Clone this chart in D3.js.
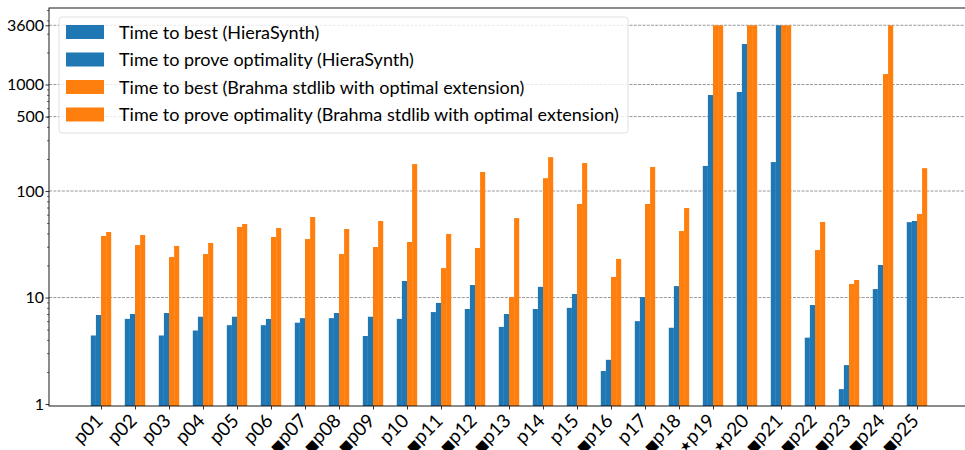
<!DOCTYPE html>
<html>
<head>
<meta charset="utf-8">
<script src="https://cdn.jsdelivr.net/npm/d3@7"></script>
<style>
  body { margin: 0; background: #fff; }
  svg { font-family: Lato, "DejaVu Sans", sans-serif; }
</style>
</head>
<body>
<script>
var categories = ["p01","p02","p03","p04","p05","p06","p07","p08","p09","p10","p11","p12","p13",
  "p14","p15","p16","p17","p18","p19","p20","p21","p22","p23","p24","p25"];
// markers shown in front of the problem name
var markers = ["","","","","","","★■","★■","★■","","★■","★■","★■",
  "","","★■","","■","★","★","*★■","★■","★■","★■","★■"];

var hsBest  = [4.4, 6.3, 4.4, 4.9, 5.5, 5.5, 5.8, 6.4, 4.35, 6.3, 7.3, 7.8, 5.3, 7.8, 8.0, 2.04, 6.0, 5.2, 172, 851, 187, 4.2, 1.38, 12.0, 51];
var hsProve = [6.85, 7.0, 7.15, 6.6, 6.6, 6.3, 6.4, 7.15, 6.6, 14.3, 8.9, 13.1, 7.0, 12.6, 10.8, 2.6, 10.1, 12.8, 797, 2400, 3600, 8.5, 2.32, 20.2, 52.3];
var brBest  = [37.8, 31.1, 24.0, 25.6, 45.9, 37.0, 35.4, 25.6, 29.8, 33.2, 18.9, 29.2, 10.1, 132, 75.5, 15.6, 75.5, 42.1, 3600, 3600, 3600, 27.9, 13.4, 1255, 60.8];
var brProve = [41.2, 38.6, 30.5, 32.5, 49.0, 44.9, 57.0, 44.0, 52.3, 179, 39.5, 151, 55.7, 208, 183, 23.0, 168, 69.2, 3600, 3600, 3600, 51.2, 14.6, 3600, 164];

var yTicks = [1, 10, 100, 500, 1000, 3600];

var series = [
  {name: "Time to best (HieraSynth)", values: hsBest, color: "#1f77b4", offset: -0.3},
  {name: "Time to prove optimality (HieraSynth)", values: hsProve, color: "#1f77b4", offset: -0.15},
  {name: "Time to best (Brahma stdlib with optimal extension)", values: brBest, color: "#ff7f0e", offset: 0},
  {name: "Time to prove optimality (Brahma stdlib with optimal extension)", values: brProve, color: "#ff7f0e", offset: 0.15}
];
var barWidth = 0.15;

var width = 965, height = 450;
var margin = {left: 49, right: 969, top: 8, bottom: 406};

var svg = d3.select("body").append("svg")
  .attr("width", width)
  .attr("height", height);

var x = d3.scaleLinear()
  .domain([-1.53, categories.length - 1 + 1.53])
  .range([margin.left, margin.right]);

var y = d3.scaleLog()
  .domain([0.958, 5230])
  .range([margin.bottom, margin.top]);

// grid
svg.append("g")
  .selectAll("line")
  .data(yTicks.slice(1))
  .enter().append("line")
  .attr("x1", margin.left).attr("x2", margin.right)
  .attr("y1", function(d) { return y(d); })
  .attr("y2", function(d) { return y(d); })
  .attr("stroke", "#808080")
  .attr("stroke-width", 0.8)
  .attr("stroke-dasharray", "3,1.3");

// bars
series.forEach(function(s) {
  svg.append("g")
    .selectAll("rect")
    .data(s.values)
    .enter().append("rect")
    .attr("x", function(d, i) { return x(i + s.offset); })
    .attr("width", x(barWidth) - x(0))
    .attr("y", function(d) { return y(d); })
    .attr("height", function(d) { return margin.bottom - y(d); })
    .attr("fill", s.color);
});

// y axis: major + minor ticks
var minor = [];
[1, 10, 100, 1000].forEach(function(p) {
  for (var k = 2; k <= 9; k++) if (p * k < 5230) minor.push(p * k);
});

svg.append("g")
  .attr("transform", "translate(" + margin.left + ",0)")
  .call(d3.axisLeft(y).tickValues(minor).tickSize(2).tickFormat(""))
  .call(function(g) { g.select(".domain").remove(); g.selectAll("line").attr("stroke-width", 0.6); });

var yAxis = svg.append("g")
  .attr("transform", "translate(" + margin.left + ",0)")
  .call(d3.axisLeft(y).tickValues(yTicks).tickSize(3.5).tickPadding(1.5).tickFormat(d3.format("d")));
yAxis.select(".domain").remove();
yAxis.selectAll("text").attr("font-size", 16).attr("font-family", "Lato").attr("fill", "#000");
yAxis.selectAll("line").attr("stroke-width", 0.8);

// x axis
var xAxis = svg.append("g")
  .attr("transform", "translate(0," + margin.bottom + ")")
  .call(d3.axisBottom(x).tickValues(d3.range(categories.length)).tickSize(3.5).tickFormat(""));
xAxis.select(".domain").remove();
xAxis.selectAll("line").attr("stroke-width", 0.8);

var labels = svg.append("g")
  .selectAll("text")
  .data(categories)
  .enter().append("text")
  .attr("transform", function(d, i) { return "translate(" + (x(i) + 3) + "," + (margin.bottom + 16) + ") rotate(-45)"; })
  .attr("text-anchor", "end")
  .attr("font-size", 19);
labels.append("tspan")
  .attr("font-size", 13)
  .attr("font-family", "DejaVu Sans")
  .text(function(d, i) { return markers[i]; });
labels.append("tspan")
  .text(function(d) { return d; });

// spines
svg.append("rect")
  .attr("x", margin.left).attr("y", margin.top)
  .attr("width", margin.right - margin.left).attr("height", margin.bottom - margin.top)
  .attr("fill", "none")
  .attr("stroke", "#000")
  .attr("stroke-width", 0.9);

// legend
var legend = svg.append("g");
legend.append("rect")
  .attr("x", 59).attr("y", 17)
  .attr("width", 569).attr("height", 116)
  .attr("rx", 3)
  .attr("fill", "#fff").attr("fill-opacity", 0.8)
  .attr("stroke", "#d9d9d9").attr("stroke-width", 0.8);

var rows = legend.selectAll("g.row")
  .data(series)
  .enter().append("g")
  .attr("class", "row")
  .attr("transform", function(d, i) { return "translate(66," + (25 + i * 27.5) + ")"; });
rows.append("rect")
  .attr("width", 38).attr("height", 14)
  .attr("fill", function(d) { return d.color; });
rows.append("text")
  .attr("x", 53).attr("y", 13.5)
  .attr("font-size", 18)
  .text(function(d) { return d.name; });
</script>
</body>
</html>
